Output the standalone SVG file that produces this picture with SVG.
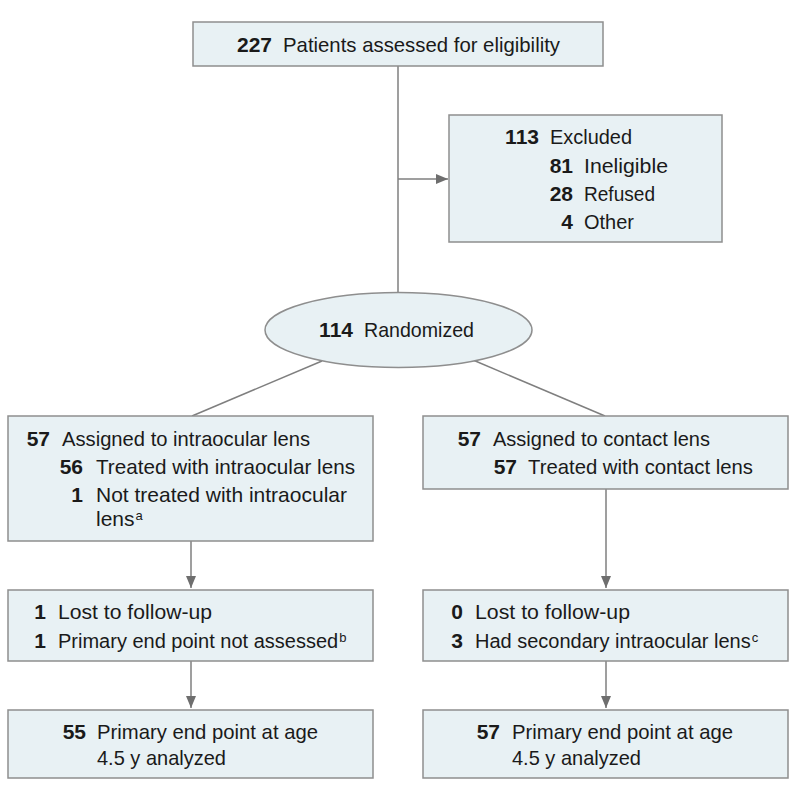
<svg xmlns="http://www.w3.org/2000/svg" width="798" height="798" viewBox="0 0 798 798">
<defs>
<style>
.box{fill:#E8F1F4;stroke:#8E8E8E;stroke-width:1.5}
.con{fill:none;stroke:#7F7F7F;stroke-width:1.5}
text{font-family:"Liberation Sans",Arial,sans-serif;font-size:21px;fill:#1A1A1A}
.n{font-weight:bold;text-anchor:end}
.s20{font-size:20px}
.sup{font-size:13px}
</style>
<marker id="arr" viewBox="0 0 12 10" refX="12" refY="5" markerWidth="12" markerHeight="10" markerUnits="userSpaceOnUse" orient="auto">
<path d="M0,0 L12,5 L0,10 Z" fill="#6E6E6E"/>
</marker>
</defs>
<rect width="798" height="798" fill="#FFFFFF"/>
<g id="connectors">
<line class="con" x1="398" y1="66" x2="398" y2="292.5"/>
<line class="con" x1="398" y1="179" x2="448" y2="179" marker-end="url(#arr)"/>
<line class="con" x1="322" y1="361" x2="192" y2="416"/>
<line class="con" x1="473" y1="360" x2="605" y2="416"/>
<line class="con" x1="191" y1="541" x2="191" y2="588" marker-end="url(#arr)"/>
<line class="con" x1="606" y1="489" x2="606" y2="588" marker-end="url(#arr)"/>
<line class="con" x1="191" y1="661" x2="191" y2="708" marker-end="url(#arr)"/>
<line class="con" x1="606" y1="661" x2="606" y2="708" marker-end="url(#arr)"/>
</g>
<g id="assessed">
<rect class="box" x="193" y="22" width="410" height="44"/>
<text class="n" x="272" y="52">227</text>
<text x="283" y="52" textLength="277" lengthAdjust="spacingAndGlyphs">Patients assessed for eligibility</text>
</g>
<g id="excluded">
<rect class="box" x="449" y="115" width="273" height="127"/>
<text class="n" x="539" y="144">113</text>
<text x="550" y="144" textLength="82" lengthAdjust="spacingAndGlyphs">Excluded</text>
<text class="n" x="573" y="173">81</text>
<text x="584" y="173" textLength="84" lengthAdjust="spacingAndGlyphs">Ineligible</text>
<text class="n" x="573" y="201">28</text>
<text x="584" y="201" textLength="71" lengthAdjust="spacingAndGlyphs">Refused</text>
<text class="n" x="573" y="229">4</text>
<text x="584" y="229" textLength="50" lengthAdjust="spacingAndGlyphs">Other</text>
</g>
<g id="randomized">
<ellipse class="box" cx="398.5" cy="330" rx="133.5" ry="37.5"/>
<text class="n" x="353" y="337">114</text>
<text x="364" y="337" textLength="110" lengthAdjust="spacingAndGlyphs">Randomized</text>
</g>
<g id="assigned-iol">
<rect class="box" x="8" y="416" width="365" height="125"/>
<text class="n" x="50" y="446">57</text>
<text x="62" y="446" textLength="248" lengthAdjust="spacingAndGlyphs">Assigned to intraocular lens</text>
<text class="n" x="83" y="474">56</text>
<text x="96" y="474" textLength="259" lengthAdjust="spacingAndGlyphs">Treated with intraocular lens</text>
<text class="n" x="83" y="502">1</text>
<text x="96" y="502" textLength="251" lengthAdjust="spacingAndGlyphs">Not treated with intraocular</text>
<text x="96" y="526">lens<tspan class="sup" dx="1" dy="-6">a</tspan></text>
</g>
<g id="assigned-cl">
<rect class="box" x="423" y="416" width="365" height="73"/>
<text class="n" x="481" y="446">57</text>
<text x="493" y="446" textLength="217" lengthAdjust="spacingAndGlyphs">Assigned to contact lens</text>
<text class="n" x="517" y="474">57</text>
<text x="528" y="474" textLength="225" lengthAdjust="spacingAndGlyphs">Treated with contact lens</text>
</g>
<g id="followup-iol">
<rect class="box" x="8" y="590" width="365" height="71"/>
<text class="n" x="46" y="619">1</text>
<text x="58" y="619" textLength="154" lengthAdjust="spacingAndGlyphs">Lost to follow-up</text>
<text class="n" x="46" y="648">1</text>
<text class="s20" x="58" y="648">Primary end point not assessed<tspan class="sup" dx="1" dy="-6">b</tspan></text>
</g>
<g id="followup-cl">
<rect class="box" x="423" y="590" width="365" height="71"/>
<text class="n" x="463" y="619">0</text>
<text x="475" y="619" textLength="155" lengthAdjust="spacingAndGlyphs">Lost to follow-up</text>
<text class="n" x="463" y="648">3</text>
<text class="s20" x="475" y="648">Had secondary intraocular lens<tspan class="sup" dx="1" dy="-6">c</tspan></text>
</g>
<g id="analyzed-iol">
<rect class="box" x="8" y="710" width="365" height="68"/>
<text class="n" x="86" y="739">55</text>
<text x="97" y="739" textLength="221" lengthAdjust="spacingAndGlyphs">Primary end point at age</text>
<text x="97" y="765" textLength="129" lengthAdjust="spacingAndGlyphs">4.5 y analyzed</text>
</g>
<g id="analyzed-cl">
<rect class="box" x="423" y="710" width="365" height="68"/>
<text class="n" x="500" y="739">57</text>
<text x="512" y="739" textLength="221" lengthAdjust="spacingAndGlyphs">Primary end point at age</text>
<text x="512" y="765" textLength="129" lengthAdjust="spacingAndGlyphs">4.5 y analyzed</text>
</g>
</svg>
